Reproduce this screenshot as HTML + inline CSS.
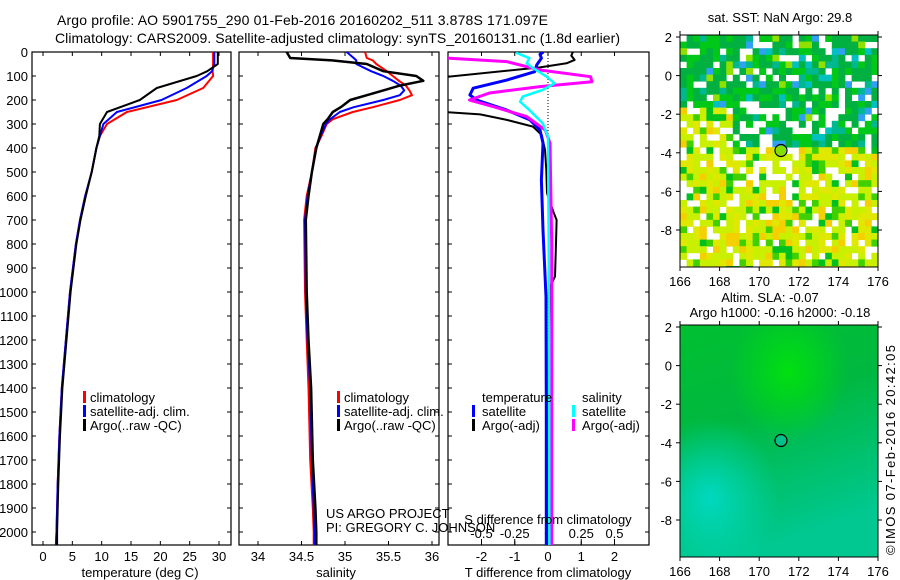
<!DOCTYPE html>
<html><head><meta charset="utf-8"><style>
html,body{margin:0;padding:0;background:#fff;}
svg{display:block;font-family:"Liberation Sans",sans-serif;}
</style></head><body>
<svg id="s" width="900" height="580" xmlns="http://www.w3.org/2000/svg">
<text x="57" y="25" font-size="14" textLength="491">Argo profile: AO 5901755_290 01-Feb-2016 20160202_511 3.878S 171.097E</text>
<text x="55" y="43" font-size="14" textLength="565">Climatology: CARS2009. Satellite-adjusted climatology: synTS_20160131.nc (1.8d earlier)</text>
<g id="maps"></g>
<g id="plots"></g>
<text transform="translate(895,555) rotate(-90)" font-size="13" textLength="210">©IMOS 07-Feb-2016 20:42:05</text>
</svg>
<script>
// ---- data (depth in m) ----
const tDepth=[0,50,80,100,150,200,250,300,350,400,500,600,700,800,1000,1200,1400,1600,1800,2000,2054];
const tClim=[29.0,29.0,28.9,29.0,27.3,22.8,14.3,10.9,9.7,9.1,8.3,7.2,6.3,5.6,4.6,3.9,3.2,2.8,2.5,2.3,2.2];
const tSat=[29.2,29.2,28.8,27.9,24.5,20.2,12.6,10.3,9.7,9.1,8.3,7.2,6.3,5.6,4.6,3.9,3.2,2.8,2.5,2.3,2.2];
const tArgo=[29.8,29.8,28.0,26.2,19.4,16.5,10.9,9.7,9.6,9.1,8.3,7.3,6.4,5.7,4.7,4.0,3.3,2.9,2.6,2.4,2.4];
const sDepth=[0,25,35,50,80,100,120,140,160,180,200,230,250,280,300,350,400,500,600,700,1000,1200,1400,1700,1900,2000,2054];
const sClim=[35.23,35.25,35.32,35.36,35.48,35.55,35.62,35.70,35.74,35.77,35.63,35.32,35.09,34.86,34.79,34.73,34.66,34.62,34.56,34.53,34.54,34.56,34.58,34.60,34.63,34.64,34.64];
const sSat=[35.02,35.10,35.13,35.13,35.30,35.44,35.55,35.64,35.68,35.63,35.44,35.10,34.94,34.83,34.78,34.72,34.67,34.62,34.57,34.54,34.55,34.57,34.60,34.62,34.64,34.65,34.65];
const sArgo=[34.33,34.37,34.85,35.25,35.44,35.82,35.90,35.63,35.44,35.25,35.06,34.95,34.86,34.80,34.75,34.71,34.67,34.62,34.58,34.55,34.56,34.58,34.61,34.63,34.66,34.67,34.67];
const dDepthA=[0,15,33,47,64,110,249,260,283,311,346,408,492,588,665,700,797,936,978,1200,1600,2000,2054];
const dTArgo=[0.75,0.7,0.8,0.56,-0.24,-3.5,-3.2,-2.04,-1.24,-0.45,-0.19,-0.09,-0.05,-0.03,0.16,0.26,0.24,0.21,0.06,0.02,0.0,0.0,0.0];
const dDepthS=[0,10,26,54,82,117,151,179,200,242,283,325,380,533,742,1019,1500,2054];
const dTSat=[-0.14,-0.24,-0.2,-0.34,-0.4,-1.24,-2.25,-2.35,-2.15,-1.24,-0.54,-0.24,-0.15,-0.2,-0.15,-0.06,-0.05,-0.05];
const dDepthM=[20,26,40,75,103,124,144,171,200,228,269,325,380,800,1500,2054];
const dSArgo=[-0.8,-0.74,-0.31,-0.06,0.32,0.33,-0.06,-0.44,-0.59,-0.41,-0.16,-0.02,0.015,0.028,0.028,0.028];
const dDepthC=[3,26,47,68,103,131,158,186,207,242,297,353,800,1500,2054];
const dSSat=[-0.24,-0.14,-0.16,-0.11,-0.01,0.05,-0.04,-0.19,-0.21,-0.14,-0.04,0.0,0.005,0.008,0.01];
const depthTicks=[0,100,200,300,400,500,600,700,800,900,1000,1100,1200,1300,1400,1500,1600,1700,1800,1900,2000];
const tTicks=[0,5,10,15,20,25,30];
const sTicks=[34,34.5,35,35.5,36];
const dtTicks=[-2,-1,0,1,2];
const dsTicks=[-0.5,-0.25,0,0.25,0.5];
const dsTickLabels=["-0.5","-0.25","0","0.25","0.5"];
const lonTicks=[166,168,170,172,174,176];
const latTicks=[2,0,-2,-4,-6,-8];
const floatLon=171.1, floatLat=-3.88;

const NS="http://www.w3.org/2000/svg";
const plots=document.getElementById('plots'), maps=document.getElementById('maps');
function mk(tag,at,parent){const e=document.createElementNS(NS,tag);for(const k in at)e.setAttribute(k,at[k]);(parent||plots).appendChild(e);return e;}
const yD=d=>52+0.24*d;
const PT=52,PB=545;
const xT=t=>43+5.867*t;
const xS=s=>258+87*(s-34);
const xDT=t=>548+33.25*t;
const xDS=s=>548+133*s;

function line(xs,ds,xf,color,w,name,clip){
  const p=xs.map((v,i)=>xf(v).toFixed(1)+','+yD(ds[i]).toFixed(1)).join(' ');
  const e=mk('polyline',{points:p,fill:'none',stroke:color,'stroke-width':w,'stroke-linejoin':'round'});
  if(clip)e.setAttribute('clip-path','url(#'+clip+')');
  
  
}
function frame(x0,x1,name){
  const r=mk('rect',{x:x0,y:PT,width:x1-x0,height:PB-PT,fill:'none',stroke:'#000','stroke-width':1.2});
  
  
}
function xticks(vals,labels,xf,ty,name,top){
  vals.forEach((v,i)=>{
    const x=xf(v);
    mk('line',{x1:x,x2:x,y1:PB,y2:PB-4,stroke:'#000'});
    if(top)mk('line',{x1:x,x2:x,y1:PT,y2:PT+4,stroke:'#000'});
    const t=mk('text',{x:x,y:ty,'font-size':13,'text-anchor':'middle'});t.textContent=labels[i];
    
    
  });
}
function ytickMarks(x0,x1){depthTicks.forEach(d=>{mk('line',{x1:x0,x2:x0+4,y1:yD(d),y2:yD(d),stroke:'#000'});mk('line',{x1:x1,x2:x1-4,y1:yD(d),y2:yD(d),stroke:'#000'});});}
function label(x,y,txt,name,anchor,size){const t=mk('text',{x:x,y:y,'font-size':size||13,'text-anchor':anchor||'start'});t.textContent=txt;return t;}
function legendMark(x,y,color,name){const r=mk('rect',{x:x,y:y-11,width:3,height:12,fill:color});}

// clip for panel 3
const defs=mk('defs',{});
const cp=mk('clipPath',{id:'c3'},defs);mk('rect',{x:448,y:PT,width:201,height:PB-PT},cp);

// Panel 1
frame(32,231,'temperature-panel');
depthTicks.forEach(d=>{const t=label(28,yD(d)+5,String(d),'depth-tick-label','end');});
ytickMarks(32,231);
xticks(tTicks,tTicks.map(String),xT,561,'temperature-tick-label',true);
label(140,577,'temperature (deg C)','temperature-axis-title','middle');
line(tClim,tDepth,xT,'#f00',2,'temperature-climatology-line');
line(tSat,tDepth,xT,'#00f',2,'temperature-satellite-line');
line(tArgo,tDepth,xT,'#000',2,'temperature-argo-line');
legendMark(83,402,'#f00','legend-climatology-marker');label(90,402,'climatology','legend-climatology');
legendMark(83,416,'#00f','legend-satellite-marker');label(90,416,'satellite-adj. clim.','legend-satellite');
legendMark(83,430,'#000','legend-argo-marker');label(90,430,'Argo(..raw -QC)','legend-argo');

// Panel 2
frame(239,439,'salinity-panel');
ytickMarks(239,439);
xticks(sTicks,["34","34.5","35","35.5","36"],xS,561,'salinity-tick-label',true);
label(336,577,'salinity','salinity-axis-title','middle');
line(sClim,sDepth,xS,'#f00',2,'salinity-climatology-line');
line(sSat,sDepth,xS,'#00f',2,'salinity-satellite-line');
line(sArgo,sDepth,xS,'#000',2.5,'salinity-argo-line');
legendMark(337,402,'#f00','legend2-climatology-marker');label(344,402,'climatology','legend2-climatology');
legendMark(337,416,'#00f','legend2-satellite-marker');label(344,416,'satellite-adj. clim.','legend2-satellite');
legendMark(337,430,'#000','legend2-argo-marker');label(344,430,'Argo(..raw -QC)','legend2-argo');
label(326,518,'US ARGO PROJECT','project-credit');
label(326,532,'PI: GREGORY C. JOHNSON','pi-credit');

// Panel 3
frame(448,649,'difference-panel');
ytickMarks(448,649);
const z=mk('line',{x1:xDT(0),x2:xDT(0),y1:PT,y2:PB,stroke:'#000','stroke-dasharray':'1,2'});

dtTicks.forEach(v=>{mk('line',{x1:xDT(v),x2:xDT(v),y1:PT,y2:PT+4,stroke:'#000'});});
xticks(dtTicks,dtTicks.map(String),xDT,561,'t-diff-tick-label',false);
dsTicks.forEach((v,i)=>{mk('line',{x1:xDS(v),x2:xDS(v),y1:PB,y2:PB-6,stroke:'#000'});label(xDS(v),538,dsTickLabels[i],'s-diff-tick-label','middle');});
label(548,577,'T difference from climatology','t-diff-axis-title','middle');
line(dTArgo,dDepthA,xDT,'#000',2,'t-diff-argo-line','c3');
line(dTSat,dDepthS,xDT,'#00f',3,'t-diff-satellite-line','c3');
line(dSArgo,dDepthM,xDS,'#f0f',3,'s-diff-argo-line','c3');
line(dSSat,dDepthC,xDS,'#0ff',2.5,'s-diff-satellite-line','c3');
label(548,524,'S difference from climatology','s-diff-axis-title','middle');
label(482,402,'temperature','legend3-temperature-header');
legendMark(472,416,'#00f','legend3-t-satellite-marker');label(482,416,'satellite','legend3-t-satellite');
legendMark(472,430,'#000','legend3-t-argo-marker');label(482,430,'Argo(-adj)','legend3-t-argo');
label(582,402,'salinity','legend3-salinity-header');
legendMark(572,416,'#0ff','legend3-s-satellite-marker');label(582,416,'satellite','legend3-s-satellite');
legendMark(572,430,'#f0f','legend3-s-argo-marker');label(582,430,'Argo(-adj)','legend3-s-argo');

// ---- maps ----
function mapFrame(top,bottom,name,title1,title2){
  const L=680,R=878;
  const xL=lon=>L+(lon-166)*19.8, yL=lat=>top+2+(2-lat)*19.3;
  lonTicks.forEach(v=>{mk('line',{x1:xL(v),x2:xL(v),y1:bottom,y2:bottom+4,stroke:'#000'},maps);mk('line',{x1:xL(v),x2:xL(v),y1:top,y2:top-4,stroke:'#000'},maps);const t=mk('text',{x:xL(v),y:bottom+19,'font-size':13,'text-anchor':'middle'},maps);t.textContent=v;});
  latTicks.forEach(v=>{mk('line',{x1:L-4,x2:L,y1:yL(v),y2:yL(v),stroke:'#000'},maps);mk('line',{x1:R,x2:R+4,y1:yL(v),y2:yL(v),stroke:'#000'},maps);const t=mk('text',{x:L-8,y:yL(v)+5,'font-size':13,'text-anchor':'end'},maps);t.textContent=v;});
  const c=mk('circle',{cx:xL(floatLon),cy:yL(floatLat),r:6,fill:'none',stroke:'#000','stroke-width':1.2},maps);
  
  return {xL,yL};
}
// SST map background texture (top)
(function(){
  const L=680,T=35,W=198,H=232,cs=6.6;
  const g=mk('g',{},maps);
  let seed=7;const rnd=()=>{seed=(seed*16807)%2147483647;return seed/2147483647;};
  const nx=Math.ceil(W/cs),ny=Math.ceil(H/cs);
  for(let j=0;j<ny;j++)for(let i=0;i<nx;i++){
    const r=rnd(),r2=rnd();
    const fy=j/ny, fx=i/nx;
    let gap = (fx>0.35&&fx<0.6&&fy>0.3&&fy<0.6)?0.55:0.2;
    if(r<gap)continue;
    let col;
    const yellowish = fy>0.45 || (fx<0.25&&fy>0.3);
    if(yellowish){col=r2<0.45?'#c8f000':r2<0.7?'#e0e800':r2<0.82?'#f4d000':r2<0.92?'#40d000':'#00c020';}
    else{col=r2<0.5?'#00b040':r2<0.72?'#00c818':r2<0.82?'#00b890':r2<0.88?'#30a0f0':r2<0.94?'#90e000':'#00c0c0';}
    mk('rect',{x:(L+i*cs).toFixed(1),y:(T+j*cs).toFixed(1),width:Math.min(cs,L+W-(L+i*cs))+0.4,height:Math.min(cs,T+H-(T+j*cs))+0.4,fill:col},g);
  }
  mk('rect',{x:L,y:T,width:W,height:H,fill:'none',stroke:'#000'},maps);
  const m=mapFrame(35,267,'sst-map');
  mk('circle',{cx:m.xL(floatLon),cy:m.yL(floatLat),r:5,fill:'#80e000'},maps);
  const t=mk('text',{x:780,y:22,'font-size':13,'text-anchor':'middle'},maps);t.textContent='sat. SST: NaN Argo: 29.8';
})();
// SLA map (bottom)
(function(){
  const L=680,T=325,W=198,H=232;
  const d2=mk('defs',{},maps);
  const lg=mk('linearGradient',{id:'slag',x1:0,y1:0,x2:0.3,y2:1},d2);
  mk('stop',{offset:'0','stop-color':'#00c030'},lg);mk('stop',{offset:'0.45','stop-color':'#00b840'},lg);mk('stop',{offset:'1','stop-color':'#00c890'},lg);
  const rg=mk('radialGradient',{id:'slar',cx:0.15,cy:0.75,r:0.35},d2);
  mk('stop',{offset:'0','stop-color':'#00d8c0','stop-opacity':1},rg);mk('stop',{offset:'1','stop-color':'#00d8c0','stop-opacity':0},rg);
  const rg2=mk('radialGradient',{id:'slar2',cx:0.55,cy:0.2,r:0.3},d2);
  mk('stop',{offset:'0','stop-color':'#00e010','stop-opacity':1},rg2);mk('stop',{offset:'1','stop-color':'#00e010','stop-opacity':0},rg2);
  const b=mk('rect',{x:L,y:T,width:W,height:H,fill:'url(#slag)'},maps);
  mk('rect',{x:L,y:T,width:W,height:H,fill:'url(#slar)'},maps);
  mk('rect',{x:L,y:T,width:W,height:H,fill:'url(#slar2)'},maps);
  mk('rect',{x:L,y:T,width:W,height:H,fill:'none',stroke:'#000'},maps);
  const m=mapFrame(325,557,'sla-map');
  mk('circle',{cx:m.xL(floatLon),cy:m.yL(floatLat),r:5,fill:'#00c090'},maps);
  let t=mk('text',{x:770,y:302,'font-size':13,'text-anchor':'middle'},maps);t.textContent='Altim. SLA: -0.07';
  t=mk('text',{x:780,y:317,'font-size':13,'text-anchor':'middle'},maps);t.textContent='Argo h1000: -0.16 h2000: -0.18';
})();
</script>
</body></html>
